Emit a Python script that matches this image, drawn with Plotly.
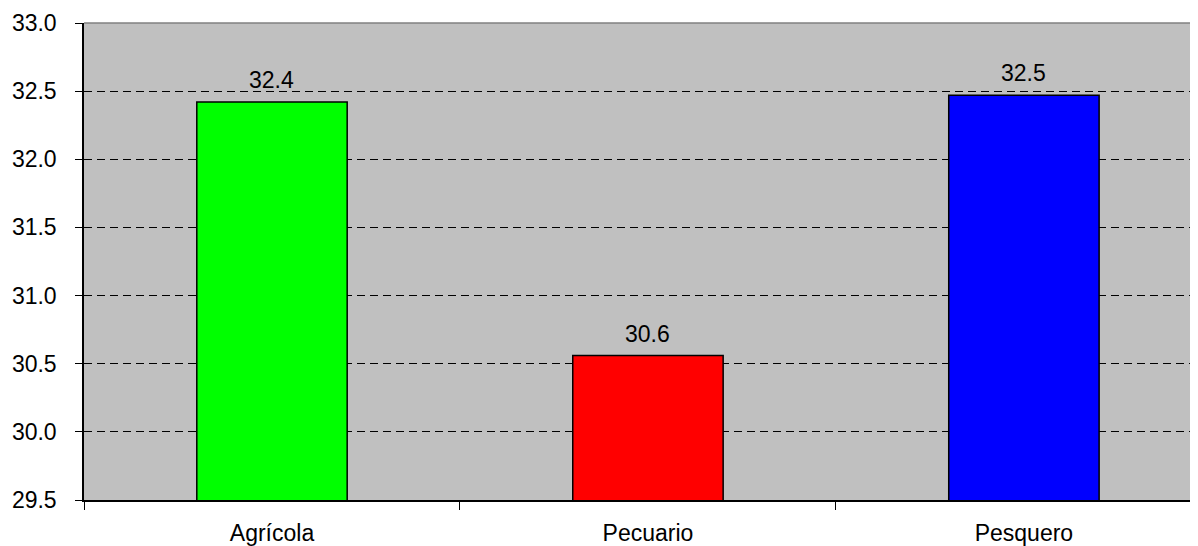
import plotly.graph_objects as go

categories = ["Agrícola", "Pecuario", "Pesquero"]
values = [32.42, 30.56, 32.47]
labels = ["32.4", "30.6", "32.5"]
colors = ["#00FF00", "#FF0000", "#0000FF"]
y_ticks = [29.5, 30.0, 30.5, 31.0, 31.5, 32.0, 32.5, 33.0]

FONT = "Liberation Sans, Arial, sans-serif"
FS = 23

fig = go.Figure()
fig.add_trace(go.Bar(
    x=categories,
    y=values,
    width=0.4,
    marker=dict(color=colors, line=dict(color="#000000", width=1.5)),
    hoverinfo="skip",
))

for c, v, t in zip(categories, values, labels):
    fig.add_annotation(x=c, y=v, text=t, showarrow=False, yanchor="bottom",
                       yshift=7, font=dict(family=FONT, size=FS, color="#000000"))

fig.add_shape(type="line", xref="paper", yref="paper", x0=0, x1=1, y0=1, y1=1,
              line=dict(color="#808080", width=1.5))

# page body has an 8px margin; compensate so the plot area sits where it should
fig.update_layout(
    width=1190, height=538,
    margin=dict(l=76, r=0, t=15, b=46, autoexpand=False),
    paper_bgcolor="#FFFFFF",
    plot_bgcolor="#C0C0C0",
    showlegend=False,
    font=dict(family=FONT, size=FS, color="#000000"),
)
fig.update_xaxes(
    type="category",
    range=[-0.5, 2.463],
    tickson="boundaries",
    ticks="outside", ticklen=8, tickcolor="#000000", tickwidth=1,
    showline=True, linecolor="#000000", linewidth=1.5,
    showgrid=False, zeroline=False,
    ticklabelstandoff=12,
    tickfont=dict(family=FONT, size=FS, color="#000000"),
)
fig.update_yaxes(
    range=[29.5, 33.0],
    tickmode="array",
    tickvals=y_ticks,
    ticktext=[f"{v:.1f}" for v in y_ticks],
    ticks="outside", ticklen=7, tickcolor="#000000", tickwidth=1,
    showline=True, linecolor="#000000", linewidth=1.5,
    showgrid=True, gridcolor="#000000", gridwidth=1, griddash="8px,5px",
    zeroline=False,
    ticklabelstandoff=14,
    tickfont=dict(family=FONT, size=FS, color="#000000"),
)

fig.write_html("out.html")
